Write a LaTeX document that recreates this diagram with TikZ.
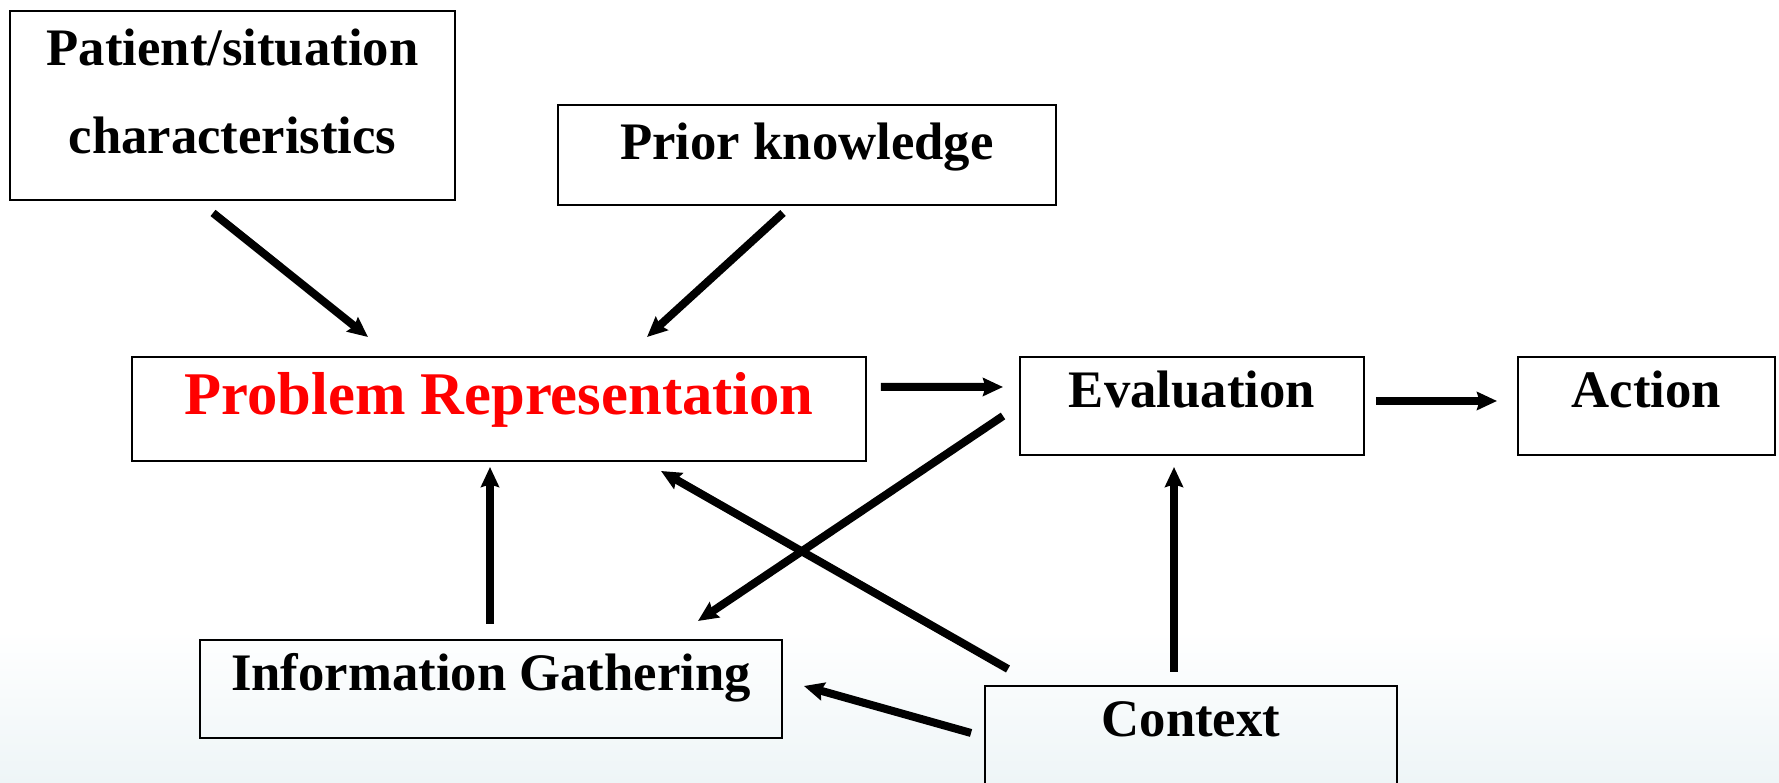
\documentclass[tikz,border=0pt]{standalone}
\usepackage{fontspec}
\setmainfont{Liberation Serif}
\usetikzlibrary{arrows.meta,calc}
\definecolor{bgfade}{RGB}{238,245,247}
\tikzset{
	blk/.style={draw, line width=0.04cm, inner sep=0pt, anchor=north,
			font=\bfseries\fontsize{30}{50}\selectfont},
	arr/.style={-{Stealth[length=0.4cm,width=0.36cm,inset=0.05cm]}, line width=0.16cm}
}

\begin{document}
\begin{tikzpicture}[x=0.02cm,y=-0.02cm]
    \useasboundingbox (0,0) rectangle (1779,783);
    \clip (0,0) rectangle (1779,783);
    \shade[top color=white,bottom color=bgfade] (0,630) rectangle (1779,783);
    \node[blk,minimum width=8.9cm,text height=1.1cm,text depth=2.68cm] (pat) at (232.5,10) {\begin{tabular}[t]{@{}c@{}}Patient/situation\\characteristics\end{tabular}};
    \node[blk,minimum width=9.96cm,text height=1.1cm,text depth=0.9cm] (prior) at (807,104) {Prior knowledge};
    \node[blk,minimum width=14.68cm,text height=1.16cm,text depth=0.92cm,text=red,font=\bfseries\fontsize{34.5}{40}\selectfont] (prob) at (499,356) {Problem Representation};
    \node[blk,minimum width=6.88cm,text height=1.02cm,text depth=0.94cm] (eval) at (1192,356) {Evaluation};
    \node[blk,minimum width=5.14cm,text height=1.02cm,text depth=0.94cm] (act) at (1646.5,356) {Action};
    \node[blk,minimum width=11.64cm,text height=1.02cm,text depth=0.94cm] (info) at (491,639) {Information Gathering};
    \node[blk,minimum width=8.24cm,text height=1.02cm,text depth=1.38cm] (ctx) at (1191,685) {Context};
    \draw[arr] ($(pat.south)+(-19.5,12)$) -- ($(prob.north)+(-131,-19)$);
    \draw[arr] ($(prior.south)+(-24,7)$) -- ($(prob.north)+(148,-19)$);
    \draw[arr] ($(prob.east)+(14,-22)$) -- ($(eval.west)+(-16,-19)$);
    \draw[arr] ($(eval.east)+(11,-5)$) -- ($(act.west)+(-20,-5)$);
    \draw[arr] ($(eval.west)+(-16,10)$) -- ($(info.north)+(207,-18)$);
    \draw[arr] ($(ctx.north)+(-183,-16)$) -- ($(prob.south)+(162,9)$);
    \draw[arr] ($(info.north)+(-1,-15)$) -- ($(prob.south)+(-9,5)$);
    \draw[arr] ($(ctx.west)+(-13,-13)$) -- ($(info.east)+(21,-3)$);
    \draw[arr] ($(ctx.north)+(-17,-13)$) -- ($(eval.south)+(-18,11)$);
\end{tikzpicture}
\end{document}
